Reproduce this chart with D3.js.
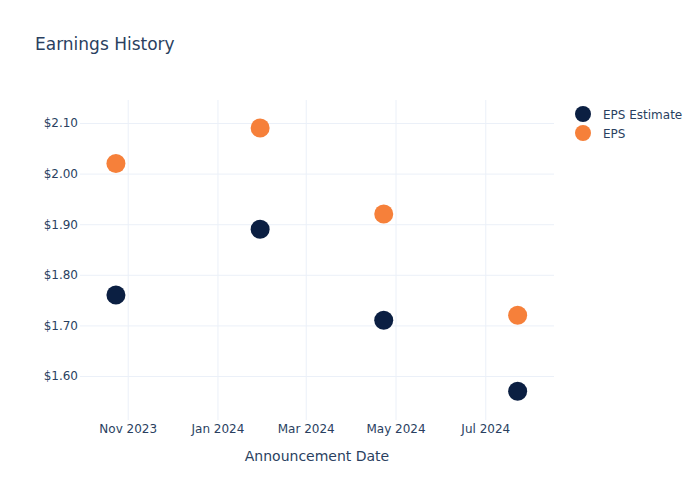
<!DOCTYPE html>
<html>
<head>
<meta charset="utf-8">
<script src="https://cdn.jsdelivr.net/npm/d3@7"></script>
<style>
  html, body { margin: 0; padding: 0; background: #fff; }
  svg { display: block; font-family: "DejaVu Sans", "Open Sans", Verdana, sans-serif; }
</style>
</head>
<body>
<svg id="chart" width="700" height="500"></svg>
<script>
// ---- data ----
const dates = ["2023-10-24", "2024-01-30", "2024-04-23", "2024-07-23"];
const epsEstimate = [1.76, 1.89, 1.71, 1.57];
const epsActual = [2.02, 2.09, 1.92, 1.72];
const seriesNames = ["EPS Estimate", "EPS"];
const seriesColors = ["#0b1f42", "#f6803a"];
const yTicks = [1.6, 1.7, 1.8, 1.9, 2.0, 2.1];
const xTicks = ["2023-11-01", "2024-01-01", "2024-03-01", "2024-05-01", "2024-07-01"];
const xDomain = ["2023-09-29T14:00:00Z", "2024-08-16T17:00:00Z"];
const yDomain = [1.513, 2.1455];

// ---- layout ----
const svg = d3.select("#chart");
const W = 700, H = 500;
const m = { left: 80, right: 146, top: 100, bottom: 80 };
const textColor = "#2a3f5f";
const gridColor = "#ebf0f8";

svg.append("rect").attr("width", W).attr("height", H).attr("fill", "#fff");

const parse = s => new Date(s.length > 10 ? s : s + "T00:00:00Z");
const x = d3.scaleUtc().domain(xDomain.map(parse)).range([m.left, W - m.right]);
const y = d3.scaleLinear().domain(yDomain).range([H - m.bottom, m.top]);

// grid
const gx = svg.append("g")
  .attr("transform", `translate(0,${H - m.bottom})`)
  .call(d3.axisBottom(x).tickValues(xTicks.map(parse)).tickSize(-(H - m.top - m.bottom)).tickPadding(4.5)
    .tickFormat(d3.utcFormat("%b %Y")));
gx.select(".domain").remove();
gx.selectAll("line").attr("stroke", gridColor).attr("stroke-width", 1);
gx.selectAll("text").attr("fill", textColor).attr("font-size", 12).attr("font-family", "DejaVu Sans, sans-serif");

const gy = svg.append("g")
  .attr("transform", `translate(${m.left},0)`)
  .call(d3.axisLeft(y).tickValues(yTicks).tickSize(-(W - m.left - m.right)).tickPadding(2)
    .tickFormat(d => "$" + d3.format(".2f")(d)));
gy.select(".domain").remove();
gy.selectAll("line").attr("stroke", gridColor).attr("stroke-width", 1);
gy.selectAll("text").attr("fill", textColor).attr("font-size", 12).attr("font-family", "DejaVu Sans, sans-serif");

// points
const series = [epsEstimate, epsActual];
series.forEach((vals, si) => {
  svg.append("g").selectAll("circle")
    .data(vals.map((v, i) => ({ date: parse(dates[i]), v })))
    .join("circle")
    .attr("cx", d => x(d.date))
    .attr("cy", d => y(d.v))
    .attr("r", 9.5)
    .attr("fill", seriesColors[si]);
});

// title
svg.append("text").attr("x", 35).attr("y", 50)
  .attr("fill", textColor).attr("font-size", 17).text("Earnings History");

// axis title
svg.append("text").attr("x", (m.left + W - m.right) / 2).attr("y", 461)
  .attr("text-anchor", "middle").attr("fill", textColor).attr("font-size", 14)
  .text("Announcement Date");

// legend
const lg = svg.append("g").attr("transform", "translate(583,114)");
seriesNames.forEach((name, i) => {
  const row = lg.append("g").attr("transform", `translate(0,${i * 19})`);
  row.append("circle").attr("r", 8).attr("fill", seriesColors[i]);
  row.append("text").attr("x", 20).attr("y", 4.5).attr("fill", textColor)
    .attr("font-size", 12).text(name);
});
</script>
</body>
</html>
